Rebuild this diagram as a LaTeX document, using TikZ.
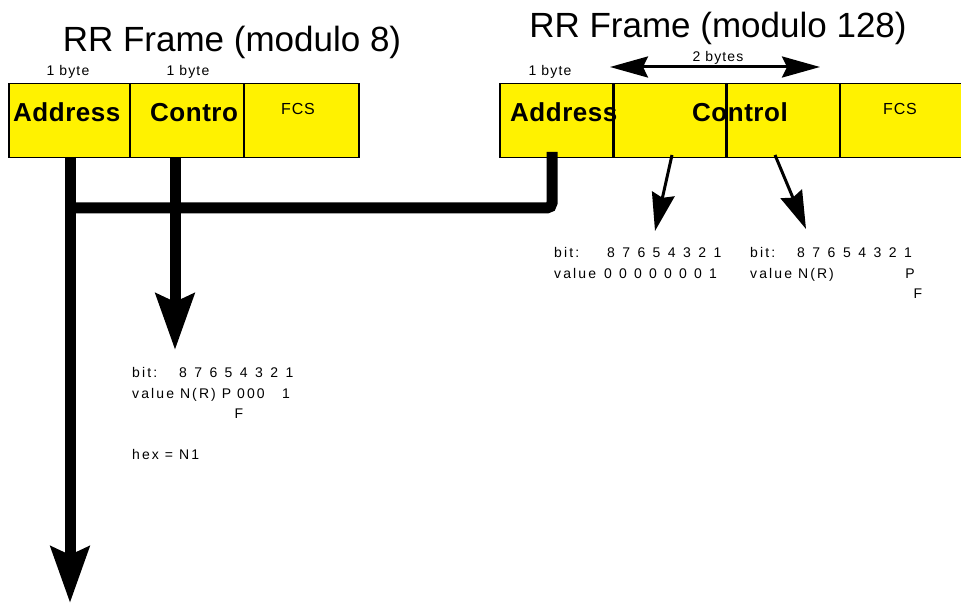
\documentclass[tikz,border=0pt]{standalone}
\usepackage{fontspec}
\setmainfont{Liberation Sans}
\usetikzlibrary{arrows.meta,calc}
\begin{document}
\begin{tikzpicture}[x=1pt,y=-1pt,
  field/.style={draw=black, line width=1.5pt, fill=yellow, anchor=north west, minimum height=74pt, inner sep=0pt},
  ttl/.style={font=\fontsize{35}{40}\selectfont, anchor=base, inner sep=0pt},
  lbl/.style={font=\fontsize{14}{16}\selectfont\addfontfeatures{LetterSpace=8}, anchor=base, inner sep=0pt},
  big/.style={font=\fontsize{26}{30}\selectfont\bfseries\addfontfeatures{LetterSpace=2}, anchor=base west, inner sep=0pt},
  fcs/.style={font=\fontsize{16}{18}\selectfont\addfontfeatures{LetterSpace=5}, anchor=base, inner sep=0pt},
  sm/.style={font=\fontsize{14}{16}\selectfont\addfontfeatures{LetterSpace=15}, anchor=base west, inner sep=0pt},
  dig/.style={font=\fontsize{14}{16}\selectfont, anchor=base, inner sep=0pt},
  bus/.style={line width=11pt},
  bigarrow/.style={line width=11pt, -{Stealth[width=38pt,length=56pt,inset=8pt]}},
  thinarrow/.style={line width=3pt, -{Stealth[width=23pt,length=38pt,inset=4pt]}},
  dblarrow/.style={line width=3pt, {Stealth[width=21pt,length=38pt,inset=5pt]}-{Stealth[width=21pt,length=38pt,inset=5pt]}},
  divider/.style={line width=1.5pt}
]
\useasboundingbox (0,0) rectangle (961,604);

% ---- titles
\node[ttl] (t1) at (232,52) {RR Frame (modulo 8)};
\node[ttl] (t2) at (718,38) {RR Frame (modulo 128)};

% ---- left frame
\node[field, minimum width=121pt] (a1) at (8,83) {};
\node[field, minimum width=114pt] (c1) at (129,83) {};
\node[field, minimum width=115pt] (f1) at (243,83) {};
\node[lbl] (b1) at (68,76) {1 byte};
\node[lbl] (b2) at (188,76) {1 byte};
\node[big] (ta1) at (13,122) {Address};
\node[big] (tc1) at (150,122) {Contro};
\node[fcs] (tf1) at (298,115) {FCS};

% ---- right frame
\node[field, minimum width=114pt] (a2) at (499,83) {};
\node[field, minimum width=113pt] (c2) at (613,83) {};
\node[field, minimum width=113pt] (c3) at (726,83) {};
\node[field, minimum width=125pt] (f2) at (839,83) {};
\node[lbl] (b3) at (550,76) {1 byte};
\node[lbl] (b4) at (718,62) {2 bytes};
\coordinate (dl) at (610,67);
\coordinate (dr) at (820,67);
\draw[dblarrow] (dl) -- (dr);
\node[big] (ta2) at (510,122) {Address};
\node[big] (tc2) at (692,122) {Control};
\node[fcs] (tf2) at (900,115) {FCS};
\draw[divider] (c2.north west) -- (c2.south west);
\draw[divider] (c3.north west) -- (c3.south west);

% ---- thick connectors
\coordinate (s1) at (70,157);
\coordinate (e1) at (70,603);
\coordinate (s2) at (175,157);
\coordinate (e2) at (175,350);
\coordinate (s3) at (552,152);
\coordinate (j1) at (70,208);
\draw[bigarrow] (s1) -- (e1);
\draw[bigarrow] (s2) -- (e2);
\draw[bus, rounded corners=5pt] (s3) |- (j1);

% ---- thin arrows from Control (mod 128)
\coordinate (s4) at (672,155);
\coordinate (e4) at (655,231);
\coordinate (s5) at (775,155);
\coordinate (e5) at (806,229);
\draw[thinarrow] (s4) -- (e4);
\draw[thinarrow] (s5) -- (e5);

% ---- text block right 1
\node[sm] (r1bit) at (554,257) {bit:};
\node[sm] (r1val) at (554,278) {value};
\foreach \d [count=\i from 0] in {8,7,6,5,4,3,2,1}
  \node[dig] (r1d\i) at (611+15.2*\i,257) {\d};
\foreach \d [count=\i from 0] in {0,0,0,0,0,0,0,1}
  \node[dig] (r1v\i) at (608+15*\i,278) {\d};

% ---- text block right 2
\node[sm] (r2bit) at (750,257) {bit:};
\node[sm] (r2val) at (750,278) {value N(R)};
\foreach \d [count=\i from 0] in {8,7,6,5,4,3,2,1}
  \node[dig] (r2d\i) at (801+15.3*\i,257) {\d};
\node[dig] (r2p) at (910,278) {P};
\node[dig] (r2f) at (918,298) {F};

% ---- text block left
\node[sm] (lbit) at (132,377) {bit:};
\foreach \d [count=\i from 0] in {8,7,6,5,4,3,2,1}
  \node[dig] (ld\i) at (183+15.2*\i,377) {\d};
\node[sm] (lval) at (132,398) {value N(R) P 000};
\node[dig] (lone) at (286,398) {1};
\node[dig] (lf) at (239,418) {F};
\node[sm] (lhex) at (132,459) {hex = N1};
\end{tikzpicture}
\end{document}
